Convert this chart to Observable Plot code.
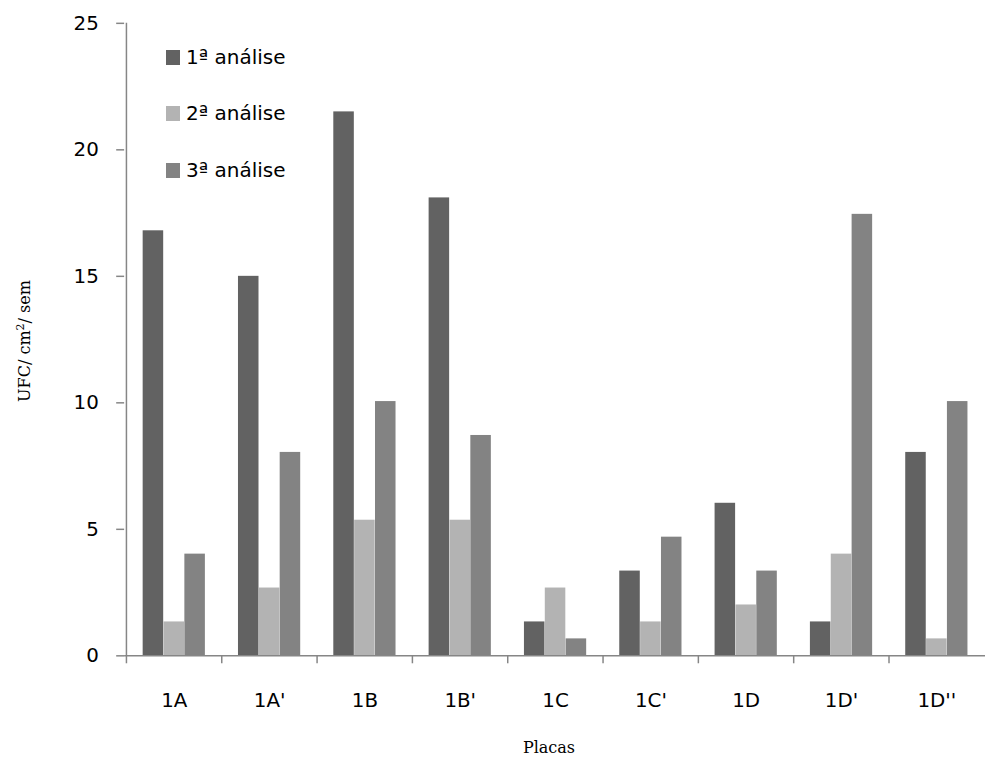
<!DOCTYPE html>
<html><head><meta charset="utf-8">
<script src="https://cdn.jsdelivr.net/npm/d3@7"></script>
<script src="https://cdn.jsdelivr.net/npm/@observablehq/plot@0.6"></script>
<style>
html,body{margin:0;padding:0;background:#fff;overflow:hidden;}
#wrap{position:relative;width:985px;height:758px;overflow:hidden;background:#fff;}
#wrap svg{position:absolute;left:0;top:0;}
.legend{position:absolute;left:166px;font-family:'DejaVu Sans',sans-serif;font-size:20px;color:#000;display:flex;align-items:center;height:24px;white-space:nowrap;}
.legend span.sw{display:inline-block;width:14px;height:15px;margin-right:6px;}
.ttl{position:absolute;font-family:'DejaVu Serif',serif;font-size:16px;color:#000;white-space:nowrap;line-height:1;}
</style></head><body><div id="wrap"></div>
<script>
const placas = ["1A","1A'","1B","1B'","1C","1C'","1D","1D'","1D''"];
const series = ["1ª análise","2ª análise","3ª análise"];
const analise1 = [16.8, 15.0, 21.5, 18.1, 1.34, 3.35, 6.03, 1.34, 8.04];
const analise2 = [1.34, 2.68, 5.36, 5.36, 2.68, 1.34, 2.01, 4.02, 0.67];
const analise3 = [4.02, 8.04, 10.05, 8.71, 0.67, 4.69, 3.35, 17.45, 10.05];
const colors = ["#626262", "#b3b3b3", "#838383"];
const yTicks = [0, 5, 10, 15, 20, 25];
const xLabel = "Placas";

const valores = [analise1, analise2, analise3];
const W = 992, H = 758, mL = 125, mR = 0, mT = 23, mB = 98;
const step = (W - mL - mR) / placas.length;
const outer = step * 0.173;
const bw = (step - 2 * outer) / 3;
const axisColor = "#868686";

const barMarks = valores.map((arr, j) =>
  Plot.barY(placas.map((p, i) => ({placa: p, serie: series[j], valor: arr[i]})), {
    x: "placa", y: "valor", fill: colors[j],
    insetLeft: outer + j * bw, insetRight: step - outer - (j + 1) * bw
  })
);

const chart = Plot.plot({
  width: W, height: H, marginLeft: mL, marginRight: mR, marginTop: mT, marginBottom: mB,
  style: {fontFamily: "'DejaVu Sans', sans-serif", fontSize: "20px", color: "#000", background: "#fff"},
  x: {domain: placas, padding: 0},
  y: {domain: [0, 25]},
  marks: [
    ...barMarks,
    Plot.ruleX([placas[0]], {y1: 0, y2: 25, dx: -step / 2, stroke: axisColor, strokeWidth: 1.5}),
    Plot.ruleY([0], {stroke: axisColor, strokeWidth: 1.5}),
    Plot.axisY({ticks: yTicks, tickSize: 8, tickPadding: 18, stroke: axisColor, strokeWidth: 1.5, label: null, fill: "#000", fontSize: 20}),
    Plot.axisX({tickSize: 8, tickFormat: () => "", dx: -step / 2, stroke: axisColor, strokeWidth: 1.5, label: null}),
    Plot.axisX({tickSize: 0, tickPadding: 37, label: null, fill: "#000", fontSize: 20})
  ]
});
const wrap = document.getElementById("wrap");
wrap.appendChild(chart);

const legendTops = [45, 101, 158];
series.forEach((s, j) => {
  const d = document.createElement("div");
  d.className = "legend";
  d.style.top = legendTops[j] + "px";
  d.innerHTML = `<span class="sw" style="background:${colors[j]}"></span>${s}`;
  wrap.appendChild(d);
});

const xt = document.createElement("div");
xt.className = "ttl";
xt.textContent = xLabel;
xt.style.left = "549px"; xt.style.top = "748px";
xt.style.transform = "translate(-50%,-50%)";
wrap.appendChild(xt);

const yt = document.createElement("div");
yt.className = "ttl";
yt.innerHTML = "UFC/ cm<sup style='font-size:11px'>2</sup>/ sem";
yt.style.left = "24px"; yt.style.top = "341px";
yt.style.transform = "translate(-50%,-50%) rotate(-90deg)";
wrap.appendChild(yt);
</script></body></html>
